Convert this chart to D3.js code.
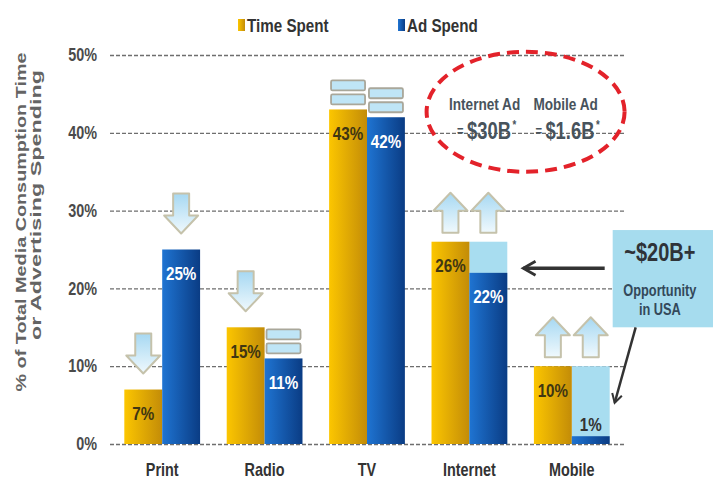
<!DOCTYPE html>
<html>
<head>
<meta charset="utf-8">
<script src="https://cdn.jsdelivr.net/npm/d3@7"></script>
<style>
  body { margin: 0; background: #fff; }
  svg text { font-family: "Liberation Sans", Arial, sans-serif; font-weight: bold; }
</style>
</head>
<body>
<div id="chart"></div>
<script>
// data
const categories = ["Print", "Radio", "TV", "Internet", "Mobile"];
const timeSpent = [7, 15, 43, 26, 10];
const adSpend = [25, 11, 42, 22, 1];
const adPotential = [null, null, null, 26, 10];   // light blue "opportunity" level
const timeTrend = ["down", "down", "flat", "up", "up"];
const adTrend = ["down", "flat", "flat", "up", "up"];
const yTicks = [0, 10, 20, 30, 40, 50];
const seriesNames = ["Time Spent", "Ad Spend"];
const adTotals = [{label: "Internet Ad", value: "$30B"}, {label: "Mobile Ad", value: "$1.6B"}];

const W = 713, H = 482;
const plot = {left: 110, right: 625, top: 55, bottom: 444};

const svg = d3.select("#chart").append("svg")
    .attr("width", W).attr("height", H);

// squeeze text horizontally around its x, the source uses a narrow face
const K = 0.8;
function narrow(sel) {
  sel.each(function() {
    const x = +this.getAttribute("x") || 0;
    d3.select(this).attr("transform", `translate(${x},0) scale(${K},1) translate(${-x},0)`);
  });
}

const defs = svg.append("defs");
function hGrad(id, c1, c2) {
  const g = defs.append("linearGradient").attr("id", id)
      .attr("x1", "0%").attr("x2", "100%").attr("y1", "0%").attr("y2", "0%");
  g.append("stop").attr("offset", "0%").attr("stop-color", c1);
  g.append("stop").attr("offset", "100%").attr("stop-color", c2);
}
hGrad("gYellow", "#fcc600", "#c38c08");
hGrad("gBlue", "#1f74d2", "#0a3c84");
const vg = defs.append("linearGradient").attr("id", "gIcon")
    .attr("x1", "0%").attr("x2", "0%").attr("y1", "0%").attr("y2", "100%");
vg.append("stop").attr("offset", "0%").attr("stop-color", "#a6d8f2");
vg.append("stop").attr("offset", "100%").attr("stop-color", "#f0f9fd");

defs.append("marker").attr("id", "head")
    .attr("viewBox", "0 0 10 10").attr("refX", 8).attr("refY", 5)
    .attr("markerWidth", 5).attr("markerHeight", 5)
    .attr("markerUnits", "strokeWidth")
    .attr("orient", "auto")
  .append("path")
    .attr("d", "M1,1 L8,5 L1,9")
    .attr("fill", "none").attr("stroke", "#333").attr("stroke-width", 1.6);

// scales
const x0 = d3.scaleBand()
    .domain(categories)
    .range([plot.left + 1, plot.right - 2])
    .paddingInner(0.26).paddingOuter(0.13);
const x1 = d3.scaleBand()
    .domain(["time", "ad"])
    .range([0, x0.bandwidth()]);
const y = d3.scaleLinear()
    .domain([0, 50])
    .range([plot.bottom, plot.top]);

// gridlines + y labels
const yAxis = svg.append("g")
    .attr("transform", `translate(${plot.left},0)`)
    .call(d3.axisLeft(y).tickValues(yTicks)
        .tickSize(-(plot.right - plot.left)).tickPadding(13)
        .tickFormat(d => d + "%"));
yAxis.select(".domain").remove();
yAxis.selectAll("line")
    .attr("stroke", "#6e6e6e").attr("stroke-width", 1.3)
    .attr("stroke-dasharray", "4,2");
yAxis.selectAll("text")
    .attr("fill", "#4a4a4a").style("font-size", "18px")
    .style("font-family", "'Liberation Sans', Arial, sans-serif")
    .call(narrow);

// y title
const yTitle = svg.append("g").attr("fill", "#646464");
yTitle.append("text")
    .attr("transform", "translate(26,222) rotate(-90)")
    .attr("text-anchor", "middle")
    .attr("textLength", 339).attr("lengthAdjust", "spacingAndGlyphs")
    .style("font-size", "15px")
    .text("% of Total Media Consumption Time");
yTitle.append("text")
    .attr("transform", "translate(41,205) rotate(-90)")
    .attr("text-anchor", "middle")
    .attr("textLength", 270).attr("lengthAdjust", "spacingAndGlyphs")
    .style("font-size", "15px")
    .text("or Advertising Spending");

// bars
const rows = categories.map((c, i) => ({
  cat: c, time: timeSpent[i], ad: adSpend[i], pot: adPotential[i],
  tTrend: timeTrend[i], aTrend: adTrend[i]
}));

const groups = svg.selectAll(".cat")
  .data(rows)
  .join("g")
    .attr("class", "cat")
    .attr("transform", d => `translate(${x0(d.cat)},0)`);

// light blue opportunity part
groups.filter(d => d.pot != null).append("rect")
    .attr("x", x1("ad"))
    .attr("y", d => y(d.pot))
    .attr("width", x1.bandwidth())
    .attr("height", d => y(0) - y(d.pot))
    .attr("fill", "#a8ddf0");

groups.append("rect")
    .attr("x", x1("time"))
    .attr("y", d => y(d.time))
    .attr("width", x1.bandwidth())
    .attr("height", d => y(0) - y(d.time))
    .attr("fill", "url(#gYellow)");

groups.append("rect")
    .attr("x", x1("ad"))
    .attr("y", d => y(d.ad))
    .attr("width", x1.bandwidth())
    .attr("height", d => y(0) - y(d.ad))
    .attr("fill", "url(#gBlue)");

// value labels
groups.append("text")
    .attr("x", x1("time") + x1.bandwidth() / 2)
    .attr("y", d => y(d.time) + 24)
    .attr("dy", "0.35em")
    .attr("text-anchor", "middle")
    .attr("fill", "#3f3612")
    .style("font-size", "19px")
    .text(d => d.time + "%")
    .call(narrow);

groups.append("text")
    .attr("x", x1("ad") + x1.bandwidth() / 2)
    .attr("y", d => d.ad < 5 ? y(d.ad) - 12 : y(d.ad) + 24)
    .attr("dy", "0.35em")
    .attr("text-anchor", "middle")
    .attr("fill", d => d.ad < 5 ? "#333" : "#fff")
    .style("font-size", "19px")
    .text(d => d.ad + "%")
    .call(narrow);

// trend icons
const upPath = "M0,-40 L17,-22 L8,-22 L8,0 L-8,0 L-8,-22 L-17,-22 Z";
const downPath = "M0,0 L17,-18 L8,-18 L8,-40 L-8,-40 L-8,-18 L-17,-18 Z";

function drawIcon(g, kind, cx, top) {
  if (kind === "flat") {
    const ic = g.append("g").attr("transform", `translate(${cx},${top - 4})`);
    [-25, -11].forEach(dy => {
      ic.append("rect")
          .attr("x", -17).attr("y", dy).attr("width", 34).attr("height", 10)
          .attr("rx", 1.5)
          .attr("fill", "#bfe5f6").attr("stroke", "#a9a79a").attr("stroke-width", 1.8);
    });
  } else {
    const gap = kind === "up" ? 9 : 16;
    g.append("path")
        .attr("transform", `translate(${cx},${top - gap})`)
        .attr("d", kind === "up" ? upPath : downPath)
        .attr("fill", "url(#gIcon)")
        .attr("stroke", "#c5c2ab").attr("stroke-width", 2)
        .attr("stroke-linejoin", "round");
  }
}

groups.each(function(d) {
  const g = d3.select(this);
  drawIcon(g, d.tTrend, x1("time") + x1.bandwidth() / 2, y(d.time));
  drawIcon(g, d.aTrend, x1("ad") + x1.bandwidth() / 2, y(Math.max(d.ad, d.pot || 0)));
});

// x labels
svg.append("g").selectAll("text")
  .data(categories)
  .join("text")
    .attr("x", d => x0(d) + x0.bandwidth() / 2)
    .attr("y", 470)
    .attr("dy", "0.35em")
    .attr("text-anchor", "middle")
    .attr("fill", "#333")
    .style("font-size", "18px")
    .text(d => d)
    .call(narrow);

// legend
const legColors = ["url(#gYellow)", "url(#gBlue)"];
const legX = [238, 398];
const legend = svg.append("g").selectAll("g")
  .data(seriesNames)
  .join("g")
    .attr("transform", (d, i) => `translate(${legX[i]},25)`);
legend.append("rect")
    .attr("x", 0).attr("y", -6).attr("width", 7).attr("height", 12)
    .attr("fill", (d, i) => legColors[i]);
legend.append("text")
    .attr("x", 9).attr("dy", "0.35em")
    .attr("fill", "#333")
    .style("font-size", "19px")
    .text(d => d)
    .call(narrow);

// red dashed ellipse with totals
const ex = (x0("Internet") + x0("Mobile") + x0.bandwidth()) / 2 + 5;
const ey = y(42.7);
svg.append("ellipse")
    .attr("cx", ex).attr("cy", ey).attr("rx", 99).attr("ry", 60)
    .attr("fill", "none").attr("stroke", "#e3222a")
    .attr("stroke-width", 4).attr("stroke-dasharray", "12,7");

const tot = svg.append("g").selectAll("g")
  .data(adTotals)
  .join("g")
    .attr("fill", "#48535c")
    .attr("transform", (d, i) => `translate(${ex + (i ? 40 : -41)},${ey})`);
tot.append("text")
    .attr("y", -2).attr("text-anchor", "middle")
    .style("font-size", "17px").text(d => d.label).call(narrow);
tot.each(function(d) {
  const g = d3.select(this);
  const v = g.append("text")
      .attr("x", 7).attr("y", 27).attr("text-anchor", "middle");
  v.append("tspan").style("font-size", "23px").text(d.value);
  v.append("tspan").style("font-size", "12px").attr("dx", 2).attr("dy", -10).text("*");
  v.call(narrow);
  const half = v.node().getBBox().width * K / 2;
  g.append("text")
      .attr("x", 7 - half - 3).attr("y", 24).attr("text-anchor", "end")
      .style("font-size", "14px").text("=").call(narrow);
});

// opportunity callout
const bx = x0("Mobile") + x0.bandwidth() + 3;
svg.append("rect")
    .attr("x", bx).attr("y", y(27.5))
    .attr("width", W - bx).attr("height", y(15) - y(27.5))
    .attr("fill", "#a6dcee");
const cx = bx + (W - bx) / 2 - 3;
svg.append("text").attr("x", cx).attr("y", y(24.6)).attr("dy", "0.35em")
    .attr("text-anchor", "middle").attr("fill", "#2f3338")
    .style("font-size", "25px").text("~$20B+").call(narrow);
svg.append("text").attr("x", cx).attr("y", y(19.8)).attr("dy", "0.35em")
    .attr("text-anchor", "middle").attr("fill", "#33495a")
    .style("font-size", "16px").text("Opportunity").call(narrow);
svg.append("text").attr("x", cx).attr("y", y(17.3)).attr("dy", "0.35em")
    .attr("text-anchor", "middle").attr("fill", "#33495a")
    .style("font-size", "16px").text("in USA").call(narrow);

// arrows from callout
svg.append("line")
    .attr("x1", bx - 8).attr("y1", y(22.6))
    .attr("x2", x0("Internet") + x0.bandwidth() + 16).attr("y2", y(22.6))
    .attr("stroke", "#333").attr("stroke-width", 3.5)
    .attr("marker-end", "url(#head)");
svg.append("line")
    .attr("x1", bx + 23).attr("y1", y(15))
    .attr("x2", x0("Mobile") + x0.bandwidth() + 5).attr("y2", y(5.3))
    .attr("stroke", "#333").attr("stroke-width", 2.5)
    .attr("marker-end", "url(#head)");
</script>
</body>
</html>
